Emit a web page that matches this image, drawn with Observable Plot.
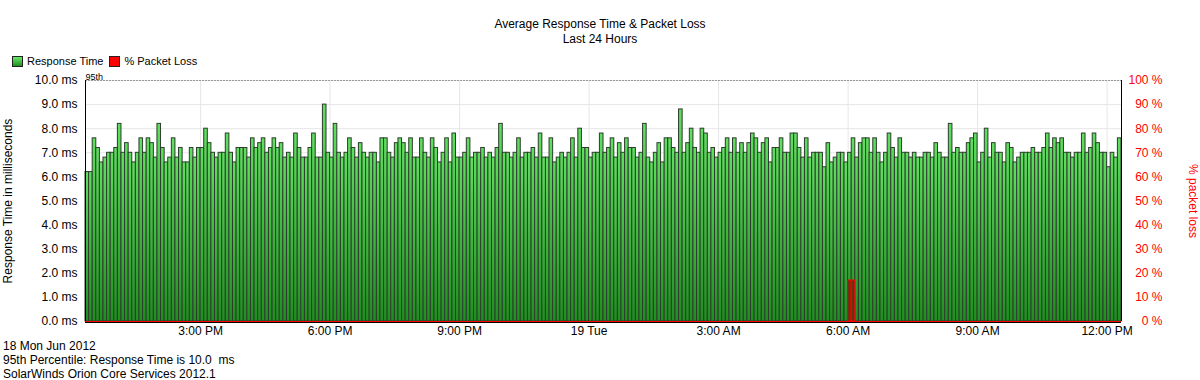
<!DOCTYPE html>
<html>
<head>
<meta charset="utf-8">
<script src="https://cdn.jsdelivr.net/npm/d3@7"></script>
<script src="https://cdn.jsdelivr.net/npm/@observablehq/plot@0.6"></script>
<style>
  body { margin: 0; background: #fff; font-family: "Liberation Sans", Arial, sans-serif; color: #000; }
  #wrap { position: relative; width: 1200px; height: 380px; overflow: hidden; }
  .title { position: absolute; left: 0; width: 1200px; text-align: center; font-size: 12px; line-height: 14px; }
  #legend { position: absolute; left: 12px; top: 55px; font-size: 11px; line-height: 13px; display: flex; align-items: center; }
  .sw { display: inline-block; width: 9px; height: 9px; border: 1px solid #222; margin-right: 4px; }
  .item { display: flex; align-items: center; margin-right: 6px; }
  #chart { position: absolute; left: 0; top: 68px; }
  #footer { position: absolute; left: 3px; top: 339px; font-size: 12px; line-height: 14px; }
</style>
</head>
<body>
<div id="wrap">
  <div class="title" style="top:17px">Average Response Time &amp; Packet Loss</div>
  <div class="title" style="top:32px">Last 24 Hours</div>
  <div id="legend">
    <span class="item"><span class="sw" style="background:linear-gradient(#6be86b,#1f8f1f)"></span>Response Time</span>
    <span class="item"><span class="sw" style="background:#ff0000"></span>% Packet Loss</span>
  </div>
  <div id="chart"></div>
  <div id="footer">
    <div>18 Mon Jun 2012</div>
    <div>95th Percentile: Response Time is 10.0&nbsp; ms</div>
    <div>SolarWinds Orion Core Services 2012.1</div>
  </div>
</div>
<script>
// ---- data ----
const startTime = "2012-06-18T12:20:00Z"; // first 5-minute sample
const responseMs = [
  6.2,6.2,7.6,7.2,6.6,6.8,7.0,7.0,7.2,8.2,
  7.0,7.4,7.0,6.6,7.0,7.6,7.0,7.6,7.4,6.8,
  8.2,7.2,6.6,6.8,7.6,6.8,7.2,6.6,6.6,7.2,
  6.8,7.2,7.2,8.0,7.4,7.0,6.8,7.0,7.0,7.8,
  7.0,6.6,7.2,7.2,7.2,6.8,7.6,7.2,7.4,7.6,
  7.0,7.2,7.6,7.2,7.4,6.8,7.0,6.8,7.8,7.2,
  6.8,6.8,7.2,7.8,6.8,6.8,9.0,7.0,6.8,8.2,
  7.0,6.8,
  7.0,7.6,7.2,6.8,7.4,7.0,6.8,7.0,7.0,6.6,
  7.6,7.6,7.0,6.8,7.4,7.6,7.4,7.0,7.6,6.8,
  6.8,7.6,7.0,6.8,7.6,7.2,6.6,7.0,7.6,6.6,
  7.8,6.8,6.8,7.0,7.6,6.8,7.0,7.0,7.2,6.8,
  7.0,6.8,7.2,8.2,7.0,7.0,6.8,7.0,7.6,6.8,
  7.0,7.0,7.2,6.8,7.8,6.8,6.8,7.6,6.6,6.8,
  7.0,6.8,7.0,7.6,6.8,8.0,7.2,7.2,6.8,7.0,
  7.0,7.8,
  7.0,7.2,7.6,6.8,7.4,7.0,7.6,7.2,7.2,6.8,
  7.0,8.2,6.8,6.6,7.0,7.4,6.6,7.6,7.6,7.2,
  7.0,8.8,7.0,7.4,8.0,7.2,7.0,8.0,7.8,7.0,
  7.2,6.8,7.0,7.2,7.6,7.0,7.6,7.0,7.4,7.0,
  7.4,7.8,7.6,7.0,7.4,7.6,6.6,7.2,7.2,7.6,
  7.0,7.0,7.8,7.8,7.2,6.8,7.6,6.8,7.0,7.0,
  7.0,6.4,7.4,6.6,6.8,7.0,7.0,6.6,7.0,7.6,
  6.8,
  7.4,7.6,7.6,7.0,7.6,7.0,6.6,7.0,7.8,
  7.2,6.8,7.6,7.0,7.0,6.8,7.0,6.8,6.8,7.0,
  7.0,6.8,7.4,7.0,6.8,6.8,8.2,7.0,7.2,7.0,
  7.0,7.4,7.6,7.8,6.6,7.0,8.0,6.8,7.4,7.0,
  7.0,6.6,7.4,7.2,6.6,6.8,7.0,7.0,7.0,7.2,
  7.0,7.0,7.2,7.8,7.2,7.6,7.4,7.6,7.0,7.0,
  6.8,7.0,7.0,7.8,7.0,7.2,7.8,7.4,7.0,7.0,
  6.4,7.0,6.8,7.6
];
const lossTimes = ["2012-06-19T06:00:00Z", "2012-06-19T06:05:00Z"];
const lossPct = [17, 17];
const msTicks = [0,1,2,3,4,5,6,7,8,9,10];
const msTickLabels = ["0.0 ms","1.0 ms","2.0 ms","3.0 ms","4.0 ms","5.0 ms","6.0 ms","7.0 ms","8.0 ms","9.0 ms","10.0 ms"];
const pctTickLabels = ["0 %","10 %","20 %","30 %","40 %","50 %","60 %","70 %","80 %","90 %","100 %"];
const xTickTimes = ["2012-06-18T15:00:00Z","2012-06-18T18:00:00Z","2012-06-18T21:00:00Z","2012-06-19T00:00:00Z",
                    "2012-06-19T03:00:00Z","2012-06-19T06:00:00Z","2012-06-19T09:00:00Z","2012-06-19T12:00:00Z"];
const xTickLabels = ["3:00 PM","6:00 PM","9:00 PM","19 Tue","3:00 AM","6:00 AM","9:00 AM","12:00 PM"];
const percentile95 = 10.0;

// ---- build ----
const STEP = 5 * 60 * 1000;
const t0 = Date.parse(startTime);
const rows = responseMs.map((v, i) => ({ t1: new Date(t0 + i * STEP), t2: new Date(t0 + (i + 1) * STEP), v }));
const lossRows = lossTimes.map((s, i) => ({ t1: new Date(s), t2: new Date(Date.parse(s) + STEP), p: lossPct[i] }));
const xTicks = xTickTimes.map(s => new Date(s));
const xLabelMap = new Map(xTicks.map((d, i) => [+d, xTickLabels[i]]));
const domainX = [new Date(t0), new Date(t0 + responseMs.length * STEP)];

const gradientDefs = () => {
  const defs = d3.create("svg:defs");
  const g = defs.append("linearGradient").attr("id", "grn").attr("x1", 0).attr("y1", 0).attr("x2", 0).attr("y2", 1);
  g.append("stop").attr("offset", "0%").attr("stop-color", "#5fe05f");
  g.append("stop").attr("offset", "100%").attr("stop-color", "#1e8e1e");
  return defs.node();
};

const chart = Plot.plot({
  width: 1200, height: 270,
  marginTop: 12, marginBottom: 17, marginLeft: 85, marginRight: 79,
  style: { fontFamily: "'Liberation Sans', Arial, sans-serif", fontSize: "12px", color: "#000", background: "transparent" },
  x: { type: "utc", domain: domainX },
  y: { domain: [0, 10] },
  marks: [
    gradientDefs,
    Plot.ruleY(msTicks, { stroke: "#e6e6e6" }),
    Plot.ruleX(xTicks, { stroke: "#e6e6e6" }),
    Plot.rectY(rows, { x1: "t1", x2: "t2", y: "v", fill: "url(#grn)", stroke: "#2e3b2e", strokeWidth: 1 }),
    Plot.rectY(lossRows, { x1: "t1", x2: "t2", y: d => d.p / 10, fill: "#6a3010", stroke: "#ff0000", strokeWidth: 1 }),
    Plot.ruleY([percentile95], { stroke: "#9a9a9a", strokeDasharray: "2,1" }),
    Plot.ruleY([0], { stroke: "#000", dy: 1 }),
    Plot.ruleY([0], { stroke: "#ff0000" }),
    Plot.ruleX(domainX, { stroke: "#000" }),
    Plot.axisY({ anchor: "left", ticks: msTicks, tickFormat: d => msTickLabels[d], tickSize: 0, tickPadding: 8, label: null }),
    Plot.axisY({ anchor: "right", ticks: msTicks, tickFormat: d => pctTickLabels[d], tickSize: 0, tickPadding: 0, textAnchor: "end", dx: 41, fill: "#ff0000", label: null }),
    Plot.axisX({ ticks: xTicks, tickFormat: d => xLabelMap.get(+d), tickSize: 0, tickPadding: 5, label: null }),
    Plot.text(["95th"], { frameAnchor: "top-left", dy: -7, textAnchor: "start", fontSize: 9 }),
    Plot.text(["Response Time in milliseconds"], { frameAnchor: "left", textAnchor: "middle", rotate: -90, dx: -77 }),
    Plot.text(["% packet loss"], { frameAnchor: "right", textAnchor: "middle", rotate: 90, dx: 71, fill: "#ff0000" })
  ]
});
document.getElementById("chart").appendChild(chart);
</script>
</body>
</html>
